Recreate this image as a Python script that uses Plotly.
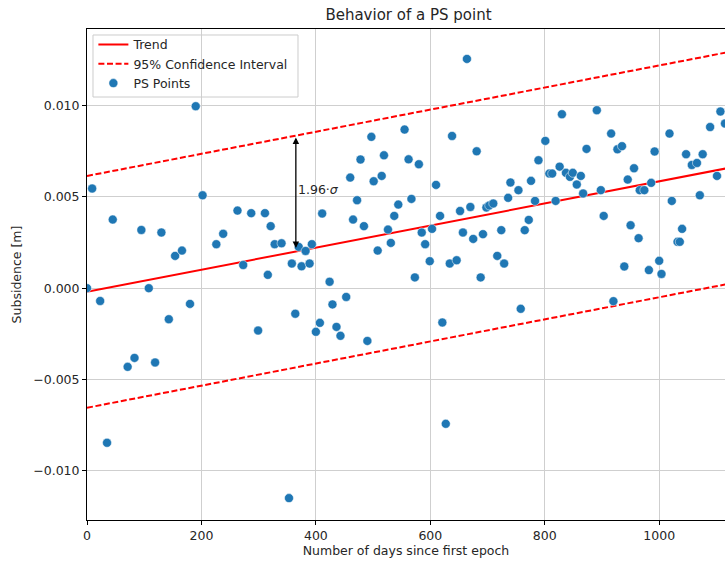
import plotly.graph_objects as go

# ---- data ----
days = [0, 9, 23, 35, 45, 71, 83, 95, 108, 119, 130, 143, 154, 166, 180, 190, 202, 226, 238, 263,
        273, 287, 299, 311, 316, 321, 328, 340, 353, 358, 364, 370, 375, 382, 389, 393, 400, 407, 411, 424,
        429, 436, 443, 453, 460, 465, 472, 478, 484, 490, 497, 501, 508, 515, 519, 526, 531, 537, 544, 555,
        562, 567, 573, 580, 585, 591, 599, 603, 610, 617, 621, 627, 634, 638, 646, 652, 657, 664, 670, 675,
        681, 688, 692, 698, 703, 710, 717, 724, 729, 736, 740, 754, 758, 765, 772, 776, 783, 789, 801, 808,
        813, 819, 826, 830, 837, 844, 849, 856, 863, 867, 873, 891, 898, 903, 916, 920, 927, 935, 939, 945,
        950, 956, 964, 966, 974, 982, 986, 992, 1000, 1004, 1018, 1022, 1032, 1036, 1040, 1047, 1057, 1066, 1071, 1076,
        1089, 1101, 1107, 1115]
subsidence = [0.0, 0.00546, -0.0007, -0.00847, 0.00376, -0.00431, -0.00382, 0.00319, 0.0, -0.00407,
              0.00305, -0.0017, 0.00177, 0.00206, -0.00086, 0.00997, 0.00509, 0.00241, 0.00298, 0.00425,
              0.00127, 0.00411, -0.00232, 0.00411, 0.00073, 0.0034, 0.00241, 0.00246, -0.0115, 0.00135,
              -0.0014, 0.00226, 0.0012, 0.00204, 0.00135, 0.00241, -0.00239, -0.0019, 0.00409, 0.00035,
              -0.00089, -0.00212, -0.00261, -0.00048, 0.00606, 0.00376, 0.00482, 0.00705, 0.0034, -0.00289,
              0.00829, 0.00586, 0.00206, 0.00615, 0.00728, 0.00321, 0.00248, 0.00396, 0.00458, 0.00869,
              0.00706, 0.00489, 0.00059, 0.00679, 0.00305, 0.00241, 0.00148, 0.00325, 0.00566, 0.00396,
              -0.00188, -0.00743, 0.00135, 0.00834, 0.00153, 0.00423, 0.00305, 0.01256, 0.00445, 0.0027,
              0.0075, 0.00059, 0.00296, 0.00442, 0.00453, 0.00464, 0.00177, 0.00318, 0.00135, 0.00495,
              0.00579, 0.00537, -0.00113, 0.00318, 0.00374, 0.00588, 0.00478, 0.00701, 0.00807, 0.00628,
              0.00628, 0.00478, 0.00666, 0.00953, 0.00632, 0.0061, 0.00632, 0.00568, 0.00615, 0.00519,
              0.00763, 0.00975, 0.00537, 0.00396, 0.00847, -0.00071, 0.00761, 0.00778, 0.00119, 0.00595,
              0.00345, 0.00657, 0.00274, 0.00537, 0.00537, 0.00099, 0.00577, 0.00749, 0.0015, 0.00078,
              0.00847, 0.00478, 0.00254, 0.00254, 0.00325, 0.00734, 0.00675, 0.00686, 0.00509, 0.00734,
              0.00883, 0.00615, 0.00968, 0.00902]

trend_days = [0, 1120]
trend_vals = [-0.0002, 0.00658]
ci_half = 0.00635          # 1.96 * sigma
arrow_day = 365

upper_vals = [v + ci_half for v in trend_vals]
lower_vals = [v - ci_half for v in trend_vals]

def trend_at(d):
    return trend_vals[0] + (trend_vals[1] - trend_vals[0]) * (d - trend_days[0]) / (trend_days[1] - trend_days[0])

y_ticks = [-0.010, -0.005, 0.000, 0.005, 0.010]
y_tick_text = ["\u22120.010", "\u22120.005", "0.000", "0.005", "0.010"]
x_ticks = [0, 200, 400, 600, 800, 1000]

TXT = "#262626"
FONT = "DejaVu Sans"
FS = 12.5

fig = go.Figure()
fig.add_trace(go.Scatter(x=trend_days, y=trend_vals, mode="lines", name="Trend",
                         line=dict(color="#ff0000", width=2)))
fig.add_trace(go.Scatter(x=trend_days, y=upper_vals, mode="lines", name="95% Confidence Interval",
                         line=dict(color="#ff0000", width=2, dash="6px,2.6px")))
fig.add_trace(go.Scatter(x=trend_days, y=lower_vals, mode="lines", showlegend=False,
                         line=dict(color="#ff0000", width=2, dash="6px,2.6px")))
fig.add_trace(go.Scatter(x=days, y=subsidence, mode="markers", name="PS Points",
                         marker=dict(color="#1f77b4", size=9, line=dict(color="white", width=0.5))))

t0 = trend_at(arrow_day)
fig.add_annotation(x=arrow_day, y=t0 + ci_half, ax=arrow_day, ay=t0, xref="x", yref="y",
                   axref="x", ayref="y", text="", showarrow=True, arrowhead=2, startarrowhead=2,
                   arrowside="end+start", arrowwidth=1.3, arrowsize=1, startarrowsize=1,
                   arrowcolor="black", standoff=2, startstandoff=2)
fig.add_annotation(x=arrow_day, y=t0 + ci_half / 2, xref="x", yref="y", text="1.96·<i>σ</i>",
                   showarrow=False, xanchor="left", yanchor="middle", xshift=0, yshift=4,
                   font=dict(family=FONT, size=FS, color=TXT))

# legend frame (matplotlib-style box)
fig.add_shape(type="rect", xref="paper", yref="paper", x0=0.0094, x1=0.3307, y0=0.8615, y1=0.9878,
              line=dict(color="#cccccc", width=1), fillcolor="rgba(0,0,0,0)", layer="above")

axis_common = dict(showgrid=True, gridcolor="#cfcfcf", gridwidth=1, zeroline=False,
                   showline=True, linecolor="black", linewidth=1, automargin=False,
                   ticks="outside", ticklen=4, tickcolor="black", tickwidth=1,
                   tickfont=dict(family=FONT, size=FS, color=TXT))

fig.update_layout(
    width=725, height=563,
    margin=dict(l=87, r=0, t=29, b=43, autoexpand=False),
    paper_bgcolor="white", plot_bgcolor="white",
    title=dict(text="Behavior of a PS point", x=0.5634, xanchor="center", y=0.973, yanchor="middle",
               font=dict(family=FONT, size=15, color=TXT)),
    xaxis=dict(range=[0, 1115], tickvals=x_ticks, mirror=True,
               title=dict(text="Number of days since first epoch", standoff=4,
                          font=dict(family=FONT, size=FS, color=TXT)),
               **axis_common),
    yaxis=dict(range=[-0.0127, 0.0142], tickvals=y_ticks, ticktext=y_tick_text,
               title=dict(text="Subsidence [m]", standoff=8,
                          font=dict(family=FONT, size=FS, color=TXT)),
               **axis_common),
    legend=dict(x=0.01, y=0.998, xanchor="left", yanchor="top", bgcolor="rgba(255,255,255,0)",
                borderwidth=0, font=dict(family=FONT, size=FS, color=TXT),
                tracegroupgap=0, itemwidth=30),
    showlegend=True,
)

fig.write_html("out.html", config={"displayModeBar": False},
               post_script="document.body.style.margin='0px';")
